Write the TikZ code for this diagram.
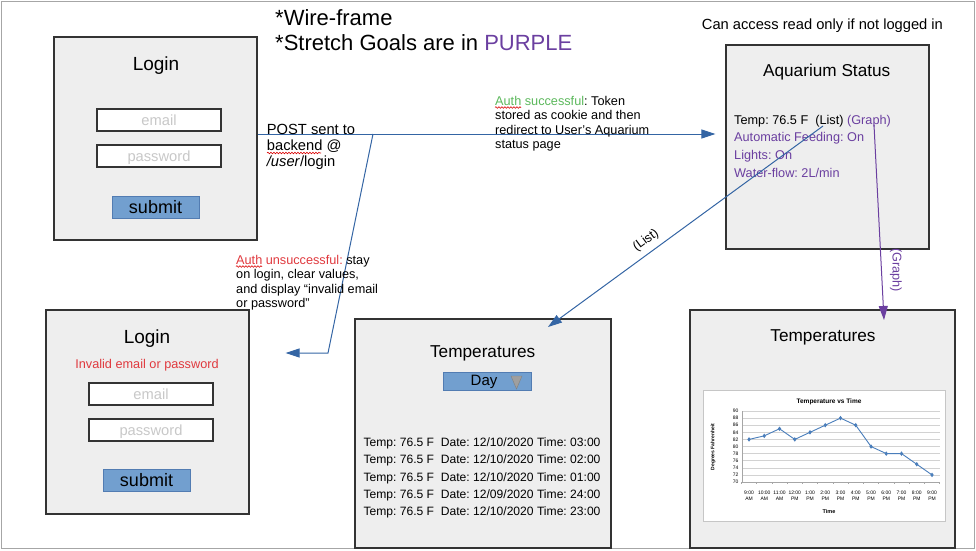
\documentclass[tikz,border=0pt]{standalone}
\usepackage{fontspec}
\setmainfont{Liberation Sans}
\usetikzlibrary{arrows.meta,decorations.pathmorphing,plotmarks}
\definecolor{boxfill}{HTML}{EEEEEE}
\definecolor{boxline}{HTML}{333333}
\definecolor{linkblue}{HTML}{3465A4}
\definecolor{btnblue}{HTML}{729FCF}
\definecolor{stretch}{HTML}{6B3FA0}
\definecolor{okgreen}{HTML}{5CB85C}
\definecolor{errred}{HTML}{E0393E}
\definecolor{hint}{HTML}{C8C8C8}
\definecolor{plotblue}{HTML}{4A7EBB}
\tikzset{
  screen/.style={draw=boxline, fill=boxfill, line width=1.2pt, inner sep=0},
  field/.style={draw=boxline, fill=white, line width=1.2pt, minimum width=124pt, minimum height=22pt,
    inner sep=0, text=hint, font=\fontsize{14.7}{16}\selectfont, text height=10.5pt, text depth=0pt},
  button/.style={draw=linkblue!85, fill=btnblue, line width=0.8pt, minimum width=87pt, minimum height=22pt,
    inner sep=0, font=\fontsize{18}{20}\selectfont, text height=12pt, text depth=0pt},
  link/.style={color=linkblue, line width=1pt, -{Triangle[length=14pt,width=9pt]}},
  txt/.style={inner sep=0, anchor=base west},
  fA/.style={font=\fontsize{12.7}{14.5}\selectfont},
  fB/.style={font=\fontsize{14.7}{16.5}\selectfont},
  fL/.style={font=\fontsize{12.1}{14}\selectfont},
  fT/.style={font=\fontsize{17.2}{19}\selectfont},
  fH/.style={font=\fontsize{19}{21}\selectfont},
  fW/.style={font=\fontsize{22}{24}\selectfont},
  fC/.style={font=\fontsize{5}{5.8}\selectfont},
  squig/.style={draw=red!85!black, line width=0.6pt, decorate, decoration={snake, amplitude=0.8pt, segment length=3pt}},
  gridc/.style={draw=gray!35, line width=0.5pt},
}
\begin{document}
\frenchspacing
\begin{tikzpicture}[x=1pt,y=-1pt]
\useasboundingbox (0,0) rectangle (976,550);
\draw[gray!70, line width=1pt] (1,1) rectangle (974.5,548.5);

% header texts
\node[txt, fW] (title1) at (275,25) {*Wire-frame};
\node[txt, fW] (title2) at (275,50) {*Stretch Goals are in \textcolor{stretch}{PURPLE}};
\node[txt, fB] (readonly) at (701.7,29.3) {Can access read only if not logged in};

% Login 1
\node[screen, minimum width=203pt, minimum height=203pt] (login1) at (155.5,138.5) {};
\node[txt, anchor=base, fH] (login1title) at (156,70) {Login};
\node[field] (email1) at (159,120) {email};
\node[field] (pass1) at (159,156) {password};
\node[button] (submit1) at (155.5,207) {submit};

% Login 2
\node[screen, minimum width=203pt, minimum height=204pt] (login2) at (147.5,412) {};
\node[txt, anchor=base, fH] (login2title) at (147,343) {Login};
\node[txt, anchor=base, fA, text=errred] (invalid) at (147,368) {Invalid email or password};
\node[field] (email2) at (151,394) {email};
\node[field] (pass2) at (151,430) {password};
\node[button] (submit2) at (146.5,480) {submit};

% Aquarium status
\node[screen, minimum width=203pt, minimum height=204pt] (aqua) at (827.5,147) {};
\node[txt, anchor=base, fT] (aquatitle) at (826.7,76.7) {Aquarium Status};
\node[txt, fA] (aqtemp) at (734,124) {Temp: 76.5 F\ \ (List) \textcolor{stretch}{(Graph)}};
\node[txt, fA, text=stretch] (aqfeed) at (734,141.7) {Automatic Feeding: On};
\node[txt, fA, text=stretch] (aqlights) at (734,159.4) {Lights: On};
\node[txt, fA, text=stretch] (aqflow) at (734,177.1) {Water-flow: 2L/min};

% Temperatures (list)
\node[screen, minimum width=256pt, minimum height=229pt] (templist) at (483,433.5) {};
\node[txt, anchor=base, fT] (templisttitle) at (482.7,357.3) {Temperatures};
\node[draw=linkblue!85, fill=btnblue, line width=0.8pt, minimum width=88pt, minimum height=18pt, inner sep=0] (daybox) at (487,381) {};
\node[txt, anchor=base, font=\fontsize{15}{17}\selectfont] (day) at (484,385.7) {Day};
\draw[fill=gray!75, draw=gray] (511,376) -- (522,376) -- (516.5,389) -- cycle;
\node[txt, fL] (row1) at (363.3,446.8) {Temp: 76.5 F\ \ Date: 12/10/2020 Time: 03:00};
\node[txt, fL] (row2) at (363.3,463.9) {Temp: 76.5 F\ \ Date: 12/10/2020 Time: 02:00};
\node[txt, fL] (row3) at (363.3,481.0) {Temp: 76.5 F\ \ Date: 12/10/2020 Time: 01:00};
\node[txt, fL] (row4) at (363.3,498.1) {Temp: 76.5 F\ \ Date: 12/09/2020 Time: 24:00};
\node[txt, fL] (row5) at (363.3,515.2) {Temp: 76.5 F\ \ Date: 12/10/2020 Time: 23:00};

% Temperatures (graph)
\node[screen, minimum width=265pt, minimum height=238pt] (tempgraph) at (822.5,429) {};
\node[txt, anchor=base, fT] (tempgraphtitle) at (823,341) {Temperatures};
\node[draw=gray!45, fill=white, line width=0.8pt, minimum width=242pt, minimum height=131pt, inner sep=0] (chart) at (824,455.5) {};
\node[inner sep=0, font=\bfseries\fontsize{6.5}{7}\selectfont] (charttitle) at (829,402) {Temperature vs Time};
\foreach \t in {70,72,...,90} {
  \draw[gridc] (742,{482-(\t-70)*3.55}) -- (940,{482-(\t-70)*3.55});
  \node[fC, anchor=east, inner sep=0] (ytick\t) at (738.5,{482-(\t-70)*3.55}) {\t};
}
\draw[gray!70, line width=0.6pt] (742,411) -- (742,482) -- (940,482);
\foreach \k in {0,...,13} { \draw[gray!70, line width=0.5pt] ({741.4+\k*15.25},482) -- ({741.4+\k*15.25},484); }
\foreach \a/\b [count=\i from 0] in {9:00/AM,10:00/AM,11:00/AM,12:00/PM,1:00/PM,2:00/PM,3:00/PM,4:00/PM,5:00/PM,6:00/PM,7:00/PM,8:00/PM,9:00/PM} {
  \node[fC, align=center, inner sep=0] (xtick\i) at ({749+\i*15.25},495.5) {\a\\\b};
}
\draw[plotblue, line width=0.9pt, mark=diamond*, mark size=1.5pt, mark options={fill=plotblue}] plot coordinates {
  (749,439.4) (764.25,435.85) (779.5,428.75) (794.75,439.4) (810,432.3) (825.25,425.2) (840.5,418.1)
  (855.75,425.2) (871,446.5) (886.25,453.6) (901.5,453.6) (916.75,464.25) (932,474.9)};
\node[inner sep=0, font=\bfseries\fontsize{5.5}{6}\selectfont] (xaxislabel) at (829,512) {Time};
\node[inner sep=0, rotate=90, font=\bfseries\fontsize{5}{6}\selectfont] (yaxislabel) at (713,447) {Degrees Fahrenheit};

% connectors
\coordinate (branch) at (373,134);
\draw[link, shorten >=10pt] (login1.east |- branch) -- (aqua.west |- branch);
\coordinate (failbend) at (328,353);
\draw[link, shorten >=36pt] (branch) -- (failbend) -- (login2.east |- failbend);
\coordinate (liststart) at (823,126);
\coordinate (listend) at (548,327);
\draw[link] (liststart) -- (listend);
\node[fA, inner sep=0, rotate=36.2] (listlabel) at (646,240.5) {(List)};
\coordinate (graphstart) at (874,125);
\coordinate (graphend) at (884,320);
\draw[link, color=stretch] (graphstart) -- (graphend);
\node[fA, inner sep=0, rotate=-90, text=stretch] (graphlabel) at (896,270) {(Graph)};

% labels on connectors
\node[txt, fB] (post1) at (266.7,134) {POST sent to};
\node[txt, fB] (post2) at (266.7,150) {backend @};
\node[txt, fB] (post3) at (266.7,166) {\textit{/user}/login};
\draw[squig] (267,153) -- (321,153);

\node[txt, fA] (ok1) at (495,105) {\textcolor{okgreen}{Auth successful}: Token};
\node[txt, fA] (ok2) at (495,119.5) {stored as cookie and then};
\node[txt, fA] (ok3) at (495,134) {redirect to User’s Aquarium};
\node[txt, fA] (ok4) at (495,148.5) {status page};
\draw[squig] (495,107.5) -- (521,107.5);

\node[txt, fA] (fail1) at (236,264) {\textcolor{errred}{Auth unsuccessful:} stay};
\node[txt, fA] (fail2) at (236,278.5) {on login, clear values,};
\node[txt, fA] (fail3) at (236,293) {and display “invalid email};
\node[txt, fA] (fail4) at (236,307.5) {or password”};
\draw[squig] (236,266.5) -- (262,266.5);
\end{tikzpicture}
\end{document}
